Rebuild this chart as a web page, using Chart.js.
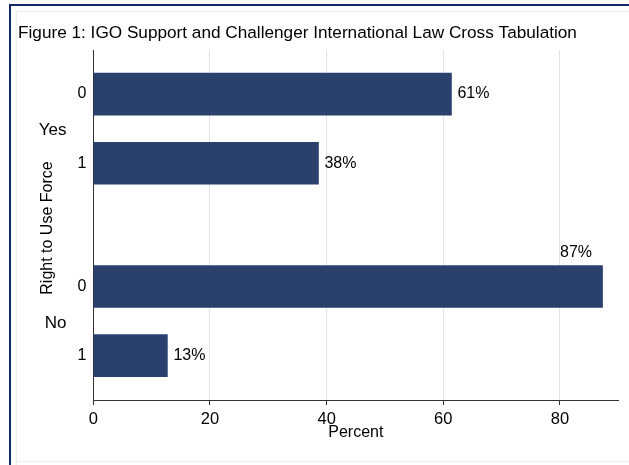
<!DOCTYPE html>
<html><head><meta charset="utf-8">
<script src="https://cdn.jsdelivr.net/npm/chart.js@4"></script>
<style>html,body{margin:0;padding:0;background:#fff}#wrap{width:629px;height:465px;position:relative}</style>
</head><body><div id="wrap"><canvas id="c" width="629" height="465"></canvas></div>
<script>
const titleText = 'Figure 1: IGO Support and Challenger International Law Cross Tabulation';
const groupLabels = ['Yes', 'No'];
const innerLabels = ['0', '1', '0', '1'];
const percentValues = [61.4, 38.6, 87.3, 12.7];
const valueLabels = ['61%', '38%', '87%', '13%'];
const xTicks = [0, 20, 40, 60, 80];
const xAxisTitle = 'Percent';
const yAxisTitle = 'Right to Use Force';

const FONT = "'Liberation Sans', Arial, Helvetica, sans-serif";
const GROUP_STEP = 2.78;
const perGroup = innerLabels.length / groupLabels.length;
function pos(i) { return Math.floor(i / perGroup) * GROUP_STEP + (i % perGroup); }

const decor = {
  id: 'decor',
  beforeDraw(chart) {
    const ctx = chart.ctx;
    ctx.save();
    ctx.fillStyle = '#ffffff';
    ctx.fillRect(0, 0, chart.width, chart.height);
    ctx.strokeStyle = '#eeeeee';
    ctx.lineWidth = 1;
    ctx.beginPath();
    ctx.moveTo(16.5, chart.height + 5); ctx.lineTo(16.5, 11.5); ctx.lineTo(chart.width + 5, 11.5);
    ctx.moveTo(16.5, 461.5); ctx.lineTo(chart.width + 5, 461.5);
    ctx.stroke();
    ctx.fillStyle = '#12296a';
    ctx.fillRect(9, 4, 2, chart.height);
    ctx.fillRect(9, 4, chart.width, 2);
    ctx.restore();
  },
  afterDatasetsDraw(chart) {
    const ctx = chart.ctx;
    const meta = chart.getDatasetMeta(0);
    ctx.save();
    ctx.font = '16px ' + FONT;
    ctx.fillStyle = '#000';
    ctx.textBaseline = 'middle';
    meta.data.forEach((bar, i) => {
      const t = valueLabels[i];
      const w = ctx.measureText(t).width;
      if (bar.x + 6 + w > chart.chartArea.right) {
        ctx.textAlign = 'right';
        ctx.fillText(t, bar.x - 10.5, bar.y - bar.height / 2 - 13);
      } else {
        ctx.textAlign = 'left';
        ctx.fillText(t, bar.x + 6, bar.y);
      }
    });
    ctx.restore();
  },
  afterDraw(chart) {
    const ctx = chart.ctx;
    const ys = chart.scales.y;
    ctx.save();
    ctx.fillStyle = '#000';
    ctx.font = '17px ' + FONT;
    ctx.textAlign = 'right';
    ctx.textBaseline = 'middle';
    groupLabels.forEach((g, gi) => {
      const c = (pos(gi * perGroup) + pos(gi * perGroup + perGroup - 1)) / 2;
      ctx.fillText(g, 66.5, ys.getPixelForValue(c) + 2);
    });
    ctx.font = '16px ' + FONT;
    ctx.translate(48, (chart.chartArea.top + chart.chartArea.bottom) / 2 + 3);
    ctx.rotate(-Math.PI / 2);
    ctx.textAlign = 'center';
    ctx.fillText(yAxisTitle, 0, 0);
    ctx.restore();
  }
};

new Chart(document.getElementById('c'), {
  type: 'bar',
  data: {
    datasets: [{
      data: percentValues.map((v, i) => ({ x: v, y: pos(i) })),
      backgroundColor: '#2a416e',
      borderWidth: 0,
      barThickness: 42
    }]
  },
  options: {
    indexAxis: 'y',
    responsive: false,
    animation: false,
    events: [],
    layout: { padding: { left: 18, right: 10.7, top: 0, bottom: 0 } },
    plugins: {
      legend: { display: false },
      tooltip: { enabled: false },
      title: {
        display: true, text: titleText, align: 'start', color: '#000',
        font: { family: FONT, size: 17.2, weight: 'normal' },
        padding: { top: 22.7, bottom: 6.7 }
      }
    },
    scales: {
      x: {
        type: 'linear', min: 0, max: 90, offset: false,
        afterBuildTicks: s => { s.ticks = xTicks.map(v => ({ value: v })); },
        afterFit: s => { s.height = 65; },
        grid: { color: '#dfe4ef', lineWidth: 1, tickColor: '#333', tickLength: 5 },
        border: { display: true, color: '#333', width: 1 },
        ticks: { color: '#000', font: { family: FONT, size: 16.5 }, padding: 5, maxRotation: 0 },
        title: { display: true, text: xAxisTitle, color: '#000', font: { family: FONT, size: 16 }, padding: { top: 0, bottom: 22.5 } }
      },
      y: {
        type: 'linear', reverse: true, min: -0.636, max: 4.42, offset: false,
        afterBuildTicks: s => { s.ticks = innerLabels.map((_, i) => ({ value: pos(i) })); },
        afterFit: s => { s.width = 75.3; },
        grid: { display: false, drawTicks: false, offset: false },
        border: { display: true, color: '#333', width: 1 },
        ticks: { color: '#000', font: { family: FONT, size: 16 }, padding: 7, callback: (v, i) => innerLabels[i] }
      }
    }
  },
  plugins: [decor]
});
</script></body></html>
